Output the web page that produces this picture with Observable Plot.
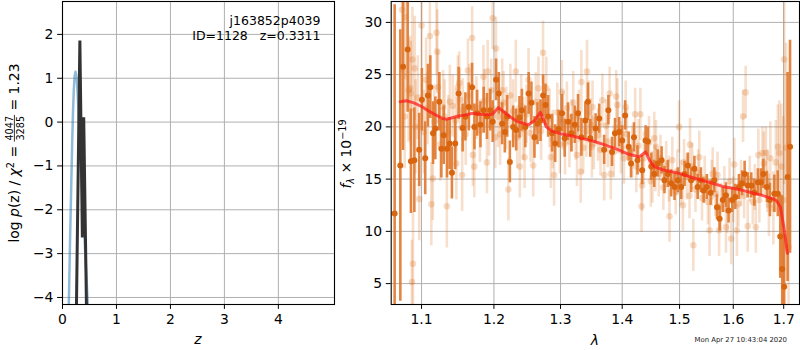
<!DOCTYPE html>
<html><head><meta charset="utf-8">
<script src="https://cdn.jsdelivr.net/npm/d3@7"></script>
<script src="https://cdn.jsdelivr.net/npm/@observablehq/plot@0.6"></script>
<style>
body{margin:0;background:#fff;}
#fig{position:relative;width:800px;height:350px;font-family:"DejaVu Sans",sans-serif;background:#fff;}
#fig .panel{position:absolute;top:0;}
#fig svg text{white-space:pre;}
</style></head><body><div id="fig"><div class="panel" id="pl" style="left:0px"></div><div class="panel" id="pr" style="left:340px"></div></div>
<script>
// ---------- tick values ----------
const zTicks = [0, 1, 2, 3, 4];
const logpTicks = [-4, -3, -2, -1, 0, 1, 2];
const lamTicks = [1.1, 1.2, 1.3, 1.4, 1.5, 1.6, 1.7];
const fluxTicks = [5, 10, 15, 20, 25, 30];

// ---------- left panel: log p(z) ----------
const zCurve = [0.105, 0.117, 0.14, 0.161, 0.18, 0.195, 0.21, 0.225, 0.241, 0.258, 0.272, 0.285, 0.30, 0.32, 0.345, 0.37, 0.395, 0.42, 0.445, 0.469, 0.48];
const lpCurve = [-4.6, -4.16, -2.7, -1.5, -0.45, 0.25, 0.75, 1.05, 1.15, 1.05, 0.85, 0.55, 0.15, -0.4, -1.1, -1.7, -2.3, -2.95, -3.55, -4.16, -4.45];
const zGrid = [0.255, 0.259, 0.322, 0.368, 0.393, 0.445, 0.447];
const lpGrid = [-4.6, -4.16, 1.86, -2.63, 0.11, -4.3, -4.6];
const annotLines = ["j163852p4039", "ID=1128   z=0.3311"];
const stamp = "Mon Apr 27 10:43:04 2020";
const chi2Num = "4047", chi2Den = "3285", chi2Ratio = "1.23";

// ---------- right panel: spectrum [lambda, flux, err] ----------
const darkPts = [
[1.0650,11.7,20],[1.0723,16.3,13],[1.0758,25.75,8],[1.0818,27.4,6],[1.0861,16.7,5],[1.0905,16.8,5],[1.0969,17.8,3.5],[1.1004,22.6,3],
[1.1049,17.0,3.5],[1.1085,23.0,3],[1.1117,23.8,3],[1.1153,19.4,3],[1.1184,19.85,3],[1.1238,22.4,2.8],[1.1265,17.9,2.8],[1.1297,19.2,2.8],
[1.1342,17.9,2.8],[1.1378,18.4,2.5],[1.1409,15.6,2.5],[1.1454,18.4,2.5],[1.1501,23.2,2.5],[1.1557,19.9,2.3],[1.1595,20.96,2.3],[1.1642,21.9,2.3],
[1.1689,23.8,2.3],[1.1722,20.0,2.2],[1.1760,21.3,2.2],[1.1807,20.2,2.2],[1.1853,21.6,2.2],[1.1900,21.0,2.2],[1.1948,21.6,2],[1.1982,20.5,2],
[1.2031,24.5,2],[1.2070,23.2,2],[1.2119,20.3,2],[1.2158,19.5,2],[1.2193,21.0,2],[1.2232,16.65,2],[1.2281,20.0,2],[1.2325,19.7,2],
[1.2374,20.9,2],[1.2410,21.6,2],[1.2461,20.0,2],[1.2512,23.2,2],[1.2553,22.3,2],[1.2599,19.0,2],[1.2645,20.3,2],[1.2691,20.6,2],
[1.2731,23.0,2],[1.2767,22.1,2],[1.2808,21.0,2],[1.2869,19.4,1.8],[1.2917,18.4,1.8],[1.2970,19.8,1.8],[1.3023,21.3,1.8],[1.3065,18.9,1.8],
[1.3118,20.5,1.8],[1.3171,19.4,1.8],[1.3224,20.2,1.8],[1.3277,21.3,1.8],[1.3330,19.0,1.8],[1.3394,20.6,1.8],[1.3436,22.4,1.8],[1.3473,18.9,1.8],
[1.356,19.85,1.4],[1.362,20.8,1.4],[1.370,17.8,1.4],[1.377,21.6,1.4],[1.383,17.6,1.4],[1.388,19.4,1.4],[1.395,19.5,1.4],[1.400,18.7,1.4],
[1.405,21.1,1.4],[1.411,18.1,1.4],[1.415,16.5,1.4],[1.420,19.0,1.4],[1.426,16.8,1.4],[1.434,15.85,1.4],[1.440,18.7,1.4],[1.444,18.6,1.4],
[1.450,16.2,1.3],[1.455,15.5,1.3],[1.461,16.5,1.3],[1.468,16.8,1.3],[1.473,14.9,1.3],[1.479,15.5,1.3],[1.485,14.6,1.3],[1.491,14.25,1.3],
[1.497,14.9,1.2],[1.503,14.25,1.2],[1.509,15.5,1.2],[1.515,16.3,1.2],[1.521,14.9,1.2],[1.527,16.0,1.2],[1.533,14.25,1.2],[1.539,14.9,1.2],
[1.544,13.9,1.2],[1.550,14.25,1.2],[1.557,13.7,1.2],[1.564,14.9,1.2],[1.569,12.3,1.2],[1.574,11.2,1.2],[1.580,13.0,1.2],[1.586,13.45,1.2],
[1.591,12.0,1.2],[1.598,13.0,1.2],[1.604,13.3,1.2],[1.611,14.25,1.2],[1.617,14.6,1.2],[1.622,15.5,1.2],[1.628,14.4,1.2],[1.635,14.4,1.2],
[1.641,13.7,1.3],[1.648,14.7,1.3],[1.654,14.7,1.3],[1.659,15.5,1.4],[1.666,14.25,1.5],[1.672,13.0,1.6],[1.681,13.6,1.8],[1.688,13.6,2.2],
[1.693,9.5,4],[1.697,6.4,7],[1.701,4.7,5],[1.708,15.2,10],[1.713,18.1,10.2]
];
const lightPts = [
[1.0745,31.2,6],[1.0787,30.5,6],[1.078,21.0,5],[1.083,23.5,5],[1.085,23.7,5],[1.086,23.2,5],[1.0873,5.15,4],[1.0887,6.9,5],
[1.088,26.45,5],[1.091,25.6,5],[1.092,20.0,4.5],[1.095,22.8,4],[1.097,13.1,4],[1.100,29.7,4],[1.103,19.5,4],[1.106,24.5,4],
[1.108,21.8,3.5],[1.111,28.7,4],[1.113,12.6,4],[1.115,15.05,4],[1.117,20.5,3.5],[1.120,29.0,4],[1.121,27.2,4],[1.122,23.8,3.5],
[1.125,18.3,3.5],[1.129,21.9,3.5],[1.131,21.0,3.5],[1.134,12.4,4],[1.136,19.5,3.5],[1.138,22.4,3.5],[1.142,22.0,3],[1.146,20.6,3],
[1.147,16.5,3.5],[1.149,23.8,3],[1.151,24.2,3],[1.152,22.6,3],[1.155,15.4,3.5],[1.156,21.6,3],[1.160,19.3,3],[1.163,25.4,3],
[1.165,23.0,3],[1.169,28.5,3],[1.170,17.3,3],[1.172,16.2,3],[1.175,21.8,3],[1.180,19.6,3],[1.185,24.8,3],[1.186,22.5,3],
[1.190,16.6,3],[1.191,25.3,3],[1.193,20.2,3],[1.196,23.5,3],[1.198,30.4,3],[1.202,19.0,3],[1.203,27.5,3],[1.206,21.0,3],
[1.209,19.3,3],[1.212,23.5,3],[1.214,22.3,3],[1.218,20.8,3],[1.221,14.0,3],[1.224,23.0,3],[1.228,21.5,3],[1.232,25.3,3],
[1.234,19.0,3],[1.238,16.2,3],[1.240,22.0,3],[1.243,19.8,3],[1.245,17.1,3],[1.248,21.2,2.8],[1.251,24.5,3],[1.254,19.4,2.8],
[1.258,16.3,3],[1.262,22.4,2.8],[1.266,23.7,3],[1.270,19.6,2.8],[1.273,27.1,3],[1.278,23.7,3],[1.283,20.8,2.8],[1.285,17.1,3],
[1.288,18.8,2.8],[1.290,15.4,3],[1.295,21.4,2.8],[1.299,18.3,2.8],[1.302,23.35,3],[1.304,20.6,2.8],[1.307,18.4,3],[1.310,21.8,2.5],
[1.314,18.6,2.5],[1.318,20.1,2.5],[1.320,22.3,3],[1.324,19.3,2.5],[1.326,17.3,3],[1.329,21.0,2.5],[1.332,15.7,3],[1.333,24.3,3],
[1.336,18.0,2.5],[1.341,19.6,2.5],[1.342,25.3,3],[1.345,21.4,3],[1.348,20.2,2.5],[1.350,18.1,3],[1.351,21.9,2.5],[1.353,18.4,2.5],
[1.360,19.2,2.5],[1.364,17.8,2.5],[1.367,22.55,2.5],[1.370,15.4,2.5],[1.373,20.1,2.5],[1.376,18.6,2.5],[1.379,23.2,2.5],[1.381,15.5,2.5],
[1.386,17.6,2.5],[1.390,22.9,2.5],[1.392,22.1,2.5],[1.393,19.9,2.5],[1.398,18.0,2.5],[1.403,17.0,2.5],[1.406,21.9,2.5],[1.408,19.3,2.5],
[1.417,17.6,2.5],[1.422,21.2,2.5],[1.424,16.2,2.5],[1.428,18.2,2.5],[1.431,21.2,2.5],[1.433,12.4,2.5],[1.434,14.4,2.5],[1.437,17.0,2.5],
[1.446,18.5,2.5],[1.449,14.8,2.5],[1.452,15.2,2.5],[1.455,18.9,2.5],[1.457,16.0,2.2],[1.458,18.1,2.5],[1.463,15.5,2.2],[1.466,17.0,2.2],
[1.471,14.2,2.2],[1.476,16.4,2.2],[1.481,15.0,2.2],[1.482,11.45,2.5],[1.487,16.8,2.2],[1.493,13.8,2.2],[1.496,15.6,2.2],[1.499,20.0,2.5],
[1.502,14.6,2.2],[1.506,12.5,2.5],[1.508,16.6,2.2],[1.513,15.2,2.2],[1.518,13.4,2.2],[1.519,18.3,2.5],[1.523,16.2,2.2],[1.525,8.67,2.5],
[1.529,14.0,2.2],[1.534,15.6,2.2],[1.536,17.1,2.5],[1.541,13.2,2.2],[1.546,15.0,2.2],[1.552,12.8,2.2],[1.555,10.1,2.5],[1.559,14.6,2.2],
[1.561,15.5,2.5],[1.566,13.6,2.2],[1.570,15.4,2.2],[1.573,10.1,2.5],[1.576,12.4,2.2],[1.583,14.0,2.2],[1.586,10.4,2.5],[1.589,12.0,2.2],
[1.593,14.8,2.2],[1.596,9.3,2.5],[1.600,13.0,2.2],[1.602,16.4,2.5],[1.607,10.1,2.5],[1.610,12.6,2.2],[1.615,14.6,2.2],[1.619,21.0,2.5],
[1.621,13.4,2.2],[1.624,23.3,2.5],[1.628,10.5,2.5],[1.632,15.0,2.2],[1.638,12.8,2.2],[1.642,14.2,2.2],[1.644,10.4,2.5],[1.649,17.3,2.5],
[1.651,13.0,2.2],[1.657,17.5,2.5],[1.660,16.5,3],[1.664,17.5,2.5],[1.667,14.8,3],[1.670,12.5,3],[1.673,17.0,3.5],[1.679,12.2,3.5],
[1.684,16.6,4],[1.688,18.1,4],[1.691,17.5,5],[1.695,16.2,6],[1.699,13.0,8],[1.701,26.45,12],[1.705,18.0,10],[1.710,8.5,10]
];
const modelLam = [1.072,1.08,1.09,1.10,1.11,1.12,1.128,1.134,1.14,1.15,1.16,1.17,1.18,1.19,1.198,1.2066,1.215,1.225,1.235,1.245,1.251,1.26,1.269,1.278,1.2864,1.30,1.32,1.34,1.351,1.37,1.39,1.41,1.429,1.44,1.447,1.455,1.47,1.4994,1.52,1.54,1.56,1.58,1.6017,1.62,1.64,1.66,1.677,1.686,1.6934,1.70,1.7077];
const modelFlux = [22.4,22.5,22.3,21.95,21.5,21.1,20.8,20.74,20.85,21.05,21.15,21.3,21.2,21.15,21.2,21.85,21.4,20.9,20.5,20.3,20.2,20.6,21.4,20.0,19.6,19.35,19.1,18.8,18.65,18.3,17.9,17.4,17.13,17.6,16.8,16.2,15.9,15.55,15.2,14.9,14.6,14.3,14.1,13.9,13.65,13.4,13.14,12.9,12.3,10.5,7.9];

// ---------- build tables ----------
const curve = zCurve.map((z, i) => ({z, lp: lpCurve[i]}));
const grid = zGrid.map((z, i) => ({z, lp: lpGrid[i]}));
const dark = darkPts.map(([lam, f, e]) => ({lam, f, e}));
const light = lightPts.map(([lam, f, e]) => ({lam, f, e}));
const model = modelLam.map((lam, i) => ({lam, f: modelFlux[i]}));

const minus = d => (d < 0 ? "\u2212" + Math.abs(d) : String(d));
const FS = 13.9, SS = 9.7;
const gridStyle = {stroke: "#b0b0b0", strokeOpacity: 1, strokeWidth: 1};
const baseStyle = {fontFamily: "DejaVu Sans", fontSize: FS + "px", background: "transparent", color: "black", overflow: "visible"};
const ORANGE = "#d95f02";

const left = Plot.plot({
  width: 340, height: 350, marginLeft: 62, marginRight: 6, marginTop: 1, marginBottom: 46,
  style: baseStyle,
  x: {domain: [0, 5.04]},
  y: {domain: [-4.16, 2.75]},
  marks: [
    Plot.gridX({ticks: zTicks, ...gridStyle}),
    Plot.gridY({ticks: logpTicks, ...gridStyle}),
    Plot.line(curve, {x: "z", y: "lp", stroke: "#1f77b4", strokeOpacity: 0.5, strokeWidth: 2.5, clip: true}),
    Plot.line(grid, {x: "z", y: "lp", stroke: "#333333", strokeWidth: 3, strokeLinejoin: "miter", clip: true}),
    Plot.text([annotLines[0]], {text: d => d, frameAnchor: "top-right", textAnchor: "end", lineAnchor: "top", dx: -14, dy: 15.1, fontSize: 12.5}),
    Plot.text([annotLines[1]], {text: d => d, frameAnchor: "top-right", textAnchor: "end", lineAnchor: "top", dx: -14, dy: 29.4, fontSize: 12.5}),
    Plot.frame({stroke: "black", strokeWidth: 1.1}),
    Plot.axisX({ticks: zTicks, tickSize: 4.9, tickPadding: 4.5, tickFormat: minus, label: null}),
    Plot.axisY({ticks: logpTicks, tickSize: 4.9, tickPadding: 4.2, tickFormat: minus, label: null})
  ]
});

const right = Plot.plot({
  width: 460, height: 350, marginLeft: 50.7, marginRight: 1, marginTop: 1, marginBottom: 46,
  style: baseStyle,
  x: {type: "log", domain: [1.0606, 1.7326]},
  y: {domain: [3.0, 32.0]},
  marks: [
    Plot.gridX({ticks: lamTicks, ...gridStyle}),
    Plot.gridY({ticks: fluxTicks, ...gridStyle}),
    Plot.ruleX(light, {x: "lam", y1: d => d.f - d.e, y2: d => d.f + d.e, stroke: ORANGE, strokeOpacity: 0.2, strokeWidth: 2.6, clip: true}),
    Plot.dot(light, {x: "lam", y: "f", r: 3.3, fill: ORANGE, fillOpacity: 0.22, clip: true}),
    Plot.ruleX(dark, {x: "lam", y1: d => d.f - d.e, y2: d => d.f + d.e, stroke: "#e0782c", strokeOpacity: 0.9, strokeWidth: 2.6, clip: true}),
    Plot.dot(dark, {x: "lam", y: "f", r: 3, fill: "#d9650f", clip: true}),
    Plot.line(model, {x: "lam", y: "f", stroke: "#ff1a1a", strokeOpacity: 0.72, strokeWidth: 3, curve: "linear", clip: true}),
    Plot.frame({stroke: "black", strokeWidth: 1.1}),
    Plot.axisX({ticks: lamTicks, tickSize: 4.9, tickPadding: 4.5, tickFormat: d => d.toFixed(1), label: null}),
    Plot.axisY({ticks: fluxTicks, tickSize: 4.9, tickPadding: 4.2, tickFormat: minus, label: null})
  ]
});

document.getElementById("pl").appendChild(left);
document.getElementById("pr").appendChild(right);

// ---------- rotated math-style y labels (single text, tspans) ----------
function rotatedText(svgNode, cx, cy) {
  const g = d3.select(svgNode).append("g")
    .attr("transform", `translate(${cx},${cy}) rotate(-90)`);
  const t = g.append("text").attr("x", 0).attr("y", 0).attr("text-anchor", "middle")
    .attr("font-family", "DejaVu Sans").attr("font-size", FS).attr("fill", "black")
    .style("white-space", "pre");
  return {g, t};
}
function span(t, s, o = {}) {
  const e = t.append("tspan").text(s);
  if (o.it) e.attr("font-style", "italic");
  if (o.size) e.attr("font-size", o.size);
  if (o.dy) e.attr("dy", o.dy);
  if (o.dx) e.attr("dx", o.dx);
  return e;
}

// left label: log p(z) / chi^2 = 4047/3285 = 1.23
{
  const {g, t} = rotatedText(left, 19, 153);
  span(t, "log ");
  span(t, "p", {it: true});
  span(t, "(z) / ");
  span(t, "\u03c7", {it: true});
  span(t, "2", {size: SS, dy: -5.5});
  span(t, " = ", {size: FS, dy: 5.5});
  const num = span(t, chi2Num, {size: SS, dy: -6.3, dx: 1});
  const numW = num.node().getComputedTextLength();
  span(t, chi2Den, {size: SS, dx: -numW, dy: 11.5});
  span(t, " = " + chi2Ratio, {size: FS, dy: -5.2, dx: 1});
  try {
    const node = t.node();
    const full = node.textContent;
    const i0 = full.indexOf(chi2Num + chi2Den);
    const i1 = i0 + chi2Num.length + chi2Den.length - 1;
    const a = node.getStartPositionOfChar(i0).x;
    const b = node.getEndPositionOfChar(i0 + chi2Num.length - 1).x;
    g.append("line").attr("x1", a - 1).attr("x2", b + 1).attr("y1", -4.6).attr("y2", -4.6)
      .attr("stroke", "black").attr("stroke-width", 0.8);
  } catch (e) {}
}
// right label: f_lambda x 10^-19
{
  const {t} = rotatedText(right, 351 - 340, 154);
  span(t, "f", {it: true});
  span(t, "\u03bb", {it: true, size: SS, dy: 3});
  span(t, " \u00d7 10", {size: FS, dy: -3});
  span(t, "\u221219", {size: SS, dy: -5.5});
}

d3.select(left).append("text").attr("x", 198).attr("y", 344).attr("text-anchor", "middle")
  .attr("font-family", "DejaVu Sans").attr("font-style", "italic").attr("font-size", FS).attr("fill", "black").text("z");
d3.select(right).append("text").attr("x", 254.9).attr("y", 345).attr("text-anchor", "middle")
  .attr("font-family", "DejaVu Sans").attr("font-style", "italic").attr("font-size", FS).attr("fill", "black").text("\u03bb");
d3.select(right).append("text").attr("x", 447).attr("y", 342).attr("text-anchor", "end")
  .attr("font-family", "DejaVu Sans").attr("font-size", 6.9).attr("fill", "#222").text(stamp);
</script></body></html>
